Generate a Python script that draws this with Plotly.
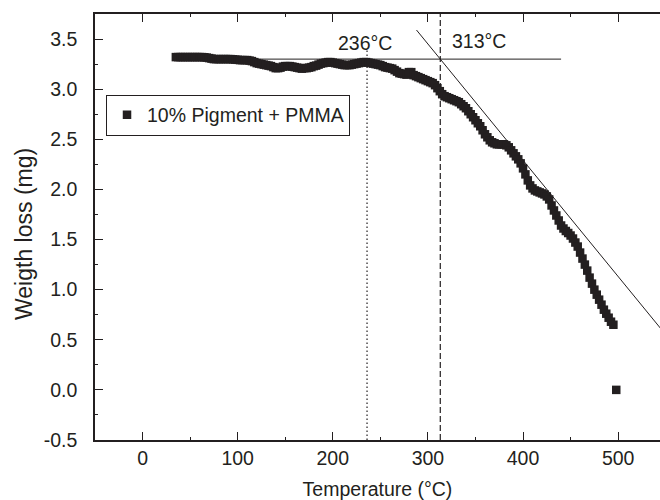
import plotly.graph_objects as go

# Thermogravimetric record of the pigmented PMMA sample.
# Weight readings (mg) on a 2.5 °C grid from 35 °C to 495 °C, one row per 25 °C.
weight = [
    3.32, 3.32, 3.32, 3.32, 3.32, 3.32, 3.32, 3.32, 3.32, 3.32,           # 35 - 57.5
    3.32, 3.32, 3.318, 3.315, 3.31, 3.305, 3.30, 3.30, 3.30, 3.30,        # 60 - 82.5
    3.30, 3.30, 3.30, 3.30, 3.298, 3.295, 3.293, 3.29, 3.29, 3.29,        # 85 - 107.5
    3.29, 3.285, 3.28, 3.27, 3.26, 3.255, 3.25, 3.245, 3.24, 3.235,       # 110 - 132.5
    3.23, 3.22, 3.21, 3.21, 3.215, 3.225, 3.23, 3.23, 3.23, 3.225,        # 135 - 157.5
    3.22, 3.215, 3.21, 3.205, 3.21, 3.21, 3.215, 3.22, 3.23, 3.235,       # 160 - 182.5
    3.245, 3.255, 3.26, 3.265, 3.27, 3.27, 3.265, 3.26, 3.255, 3.25,      # 185 - 207.5
    3.245, 3.24, 3.24, 3.24, 3.245, 3.25, 3.255, 3.26, 3.265, 3.27,       # 210 - 232.5
    3.27, 3.265, 3.26, 3.255, 3.25, 3.245, 3.24, 3.23, 3.22, 3.215,       # 235 - 257.5
    3.21, 3.205, 3.19, 3.175, 3.16, 3.155, 3.15, 3.145, 3.17, 3.17,       # 260 - 282.5
    3.14, 3.13, 3.12, 3.11, 3.10, 3.09, 3.08, 3.07, 3.06, 3.04,           # 285 - 307.5
    3.01, 2.98, 2.95, 2.93, 2.92, 2.91, 2.90, 2.89, 2.88, 2.87,           # 310 - 332.5
    2.85, 2.83, 2.81, 2.78, 2.75, 2.72, 2.69, 2.66, 2.63, 2.59,           # 335 - 357.5
    2.55, 2.52, 2.49, 2.47, 2.46, 2.45, 2.45, 2.45, 2.45, 2.44,           # 360 - 382.5
    2.42, 2.39, 2.36, 2.33, 2.30, 2.26, 2.21, 2.15, 2.09, 2.04,           # 385 - 407.5
    2.01, 1.99, 1.98, 1.97, 1.96, 1.95, 1.93, 1.90, 1.84, 1.79,           # 410 - 432.5
    1.74, 1.69, 1.64, 1.61, 1.585, 1.565, 1.54, 1.51, 1.47, 1.43,         # 435 - 457.5
    1.37, 1.31, 1.25, 1.19, 1.12, 1.06, 1.00, 0.95, 0.90, 0.85,           # 460 - 482.5
    0.80, 0.76, 0.72, 0.68, 0.65,                                         # 485 - 495
]
temperature = [35 + 2.5 * i for i in range(len(weight))]

# Final residue reading
residue_t = [498]
residue_w = [0.0]

# Onset construction
baseline_t = [100, 440]
baseline_w = [3.30, 3.30]
tangent_t = [288, 560]
tangent_w = [3.59, 0.435]
onset_start_t = 236
onset_start_w = [-0.5, 3.39]
onset_end_t = 313
onset_end_w = [-0.5, 3.75]

x_ticks = [0, 100, 200, 300, 400, 500]
y_ticks = [-0.5, 0.0, 0.5, 1.0, 1.5, 2.0, 2.5, 3.0, 3.5]
y_tick_text = ["-0.5", "0.0", "0.5", "1.0", "1.5", "2.0", "2.5", "3.0", "3.5"]

FONT = "Liberation Sans, Arial, sans-serif"
INK = "#231f20"
FS = 19.5

fig = go.Figure()

fig.add_trace(go.Scatter(
    x=[onset_start_t, onset_start_t], y=onset_start_w, mode="lines",
    line=dict(color=INK, width=1.2, dash="1.5px,2.5px"), showlegend=False, hoverinfo="skip"))
fig.add_trace(go.Scatter(
    x=[onset_end_t, onset_end_t], y=onset_end_w, mode="lines",
    line=dict(color=INK, width=1.2, dash="6px,3px"), showlegend=False, hoverinfo="skip"))
fig.add_trace(go.Scatter(
    x=baseline_t, y=baseline_w, mode="lines",
    line=dict(color=INK, width=1), showlegend=False, hoverinfo="skip"))
fig.add_trace(go.Scatter(
    x=tangent_t, y=tangent_w, mode="lines",
    line=dict(color=INK, width=1), showlegend=False, hoverinfo="skip"))

marker_style = dict(symbol="square", size=8.5, color=INK, line=dict(width=0))
fig.add_trace(go.Scatter(
    x=temperature + residue_t, y=weight + residue_w, mode="markers",
    name="10% Pigment + PMMA", marker=marker_style))

fig.add_annotation(x=onset_start_t - 2, y=3.465, text=f"{onset_start_t}°C", showarrow=False,
                   xanchor="center", yanchor="middle", font=dict(size=FS, color=INK, family=FONT))
fig.add_annotation(x=323.5, y=3.485, text=f"{onset_end_t}°C", showarrow=False,
                   xanchor="left", yanchor="middle", font=dict(size=FS, color=INK, family=FONT))

# Vertical axis title
fig.add_annotation(xref="paper", yref="paper", x=-0.1257, y=0.4836, text="Weigth loss (mg)",
                   textangle=-90, showarrow=False, xanchor="center", yanchor="middle",
                   font=dict(size=23, color=INK, family=FONT))

axis_common = dict(
    showline=True, linecolor=INK, linewidth=1.5, ticks="inside", ticklen=8,
    tickwidth=1.2, tickcolor=INK, showgrid=False, zeroline=False,
    tickfont=dict(size=FS, color=INK, family=FONT),
)

fig.update_layout(
    width=660, height=500,
    margin=dict(l=95, r=0, t=14, b=60),
    paper_bgcolor="white", plot_bgcolor="white",
    font=dict(family=FONT, size=FS, color=INK),
    xaxis=dict(range=[-50, 544], tickvals=x_ticks,
               mirror="ticks",
               minor=dict(dtick=50, ticks="inside", ticklen=3, tickcolor=INK, tickwidth=1),
               title=dict(text="Temperature (°C)", font=dict(size=FS, color=INK, family=FONT), standoff=17),
               **axis_common),
    yaxis=dict(range=[-0.5, 3.75], tickvals=y_ticks, ticktext=y_tick_text,
               ticklabelstandoff=12,
               minor=dict(dtick=0.25, tick0=0, ticks="inside", ticklen=3, tickcolor=INK, tickwidth=1),
               **axis_common),
    legend=dict(x=0.0195, y=0.811, xanchor="left", yanchor="top",
                bordercolor=INK, borderwidth=1, bgcolor="white",
                font=dict(size=FS, color=INK, family=FONT),
                itemwidth=30),
    showlegend=True,
)

fig.write_html("out.html")
